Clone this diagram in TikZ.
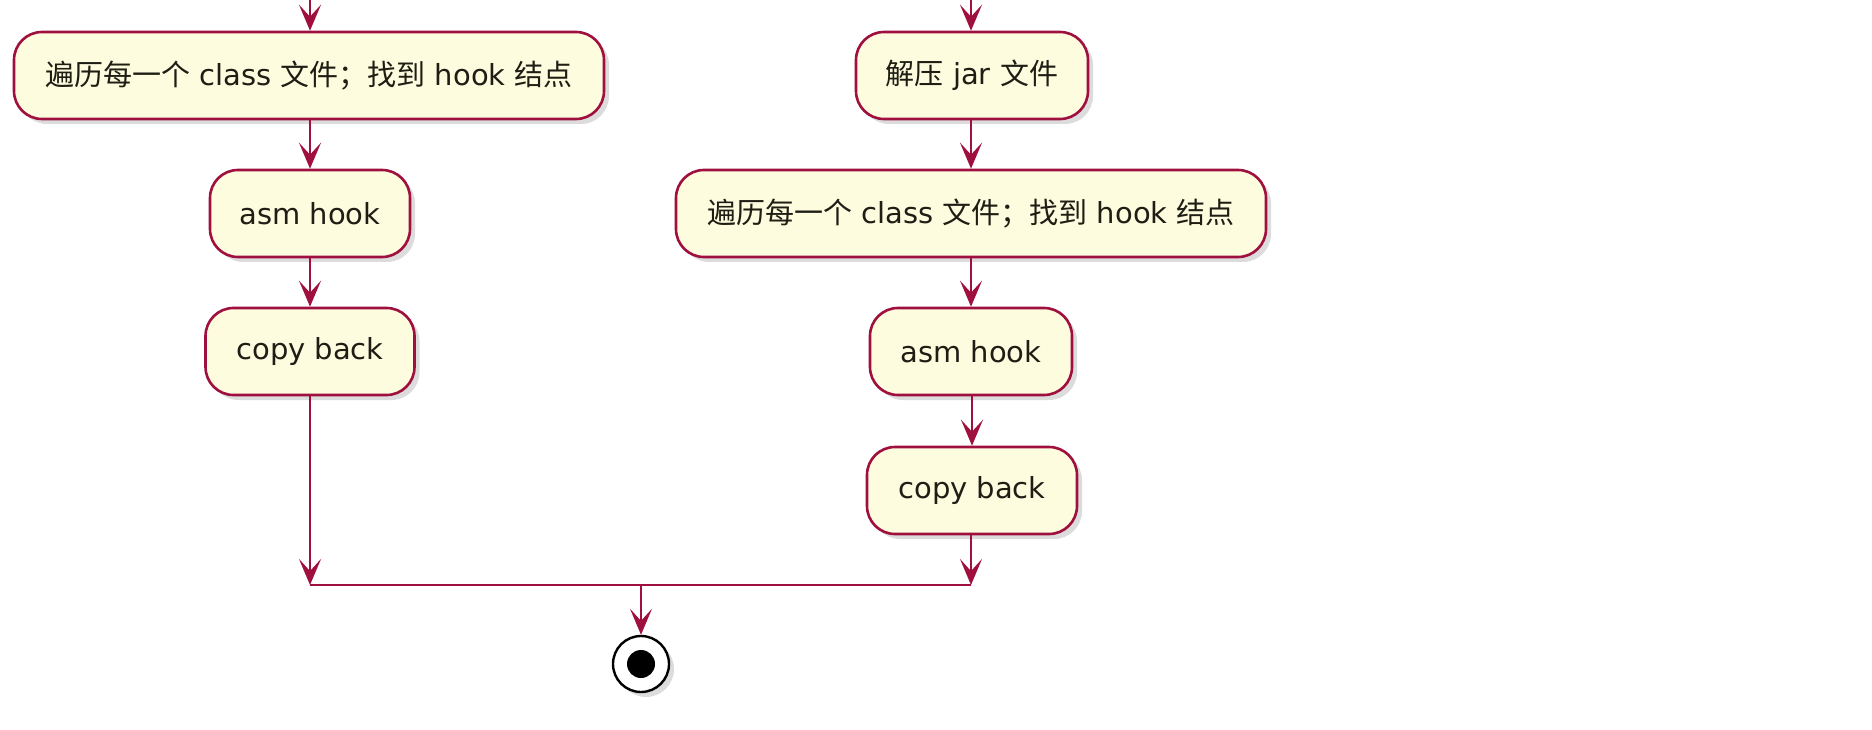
\documentclass[tikz,border=0pt]{standalone}
\usepackage{fontspec}
\setmainfont{DejaVu Sans}
\newfontfamily\cjk{Noto Sans CJK SC}
\usetikzlibrary{arrows.meta,shadows}
\definecolor{umlred}{HTML}{A0103E}
\definecolor{umlfill}{HTML}{FEFCDF}
\definecolor{umltext}{HTML}{1E1E14}
\tikzset{
  act/.style={draw=umlred, fill=umlfill, line width=2.6pt, rounded corners=28pt,
    minimum height=87pt, inner sep=0pt, text=umltext,
    font=\fontsize{29}{34}\selectfont,
    drop shadow={shadow xshift=5pt, shadow yshift=-5pt, fill=black!45, opacity=0.3}},
  flow/.style={draw=umlred, line width=2.6pt, -{Stealth[length=26pt,width=22pt,inset=12pt]}},
  bar/.style={draw=umlred, line width=2.6pt},
  endouter/.style={circle, draw=black, fill=white, line width=2.4pt, minimum size=56pt, inner sep=0pt,
    drop shadow={shadow xshift=5pt, shadow yshift=-5pt, fill=black!45, opacity=0.3}},
  endinner/.style={circle, fill=black, minimum size=28pt, inner sep=0pt}
}
\begin{document}
\begin{tikzpicture}[x=1pt,y=-1pt]
\useasboundingbox[fill=white] (0,0) rectangle (1872,730);
% left column
\node[act, minimum width=590pt] (L1) at (309,75.5) {{\cjk 遍历每一个} class {\cjk 文件；找到} hook {\cjk 结点}};
\node[act, minimum width=200pt] (L2) at (310,213.5) {asm hook};
\node[act, minimum width=209pt] (L3) at (310,351.5) {copy back};
% right column
\node[act, minimum width=232pt] (R1) at (972,75.5) {{\cjk 解压} jar {\cjk 文件}};
\node[act, minimum width=590pt] (R2) at (971,213.5) {{\cjk 遍历每一个} class {\cjk 文件；找到} hook {\cjk 结点}};
\node[act, minimum width=202pt] (R3) at (971,351.5) {asm hook};
\node[act, minimum width=210pt] (R4) at (972,490.5) {copy back};
% end
\node[endouter] (E) at (641,664) {};
\node[endinner] (Ei) at (E.center) {};
% free ends
\coordinate (TL) at (310,0);
\coordinate (TR) at (971,0);
\coordinate (BL) at (310,585);
\coordinate (BR) at (971,585);
\coordinate (BM) at (641,585);
% connectors
\draw[flow] (TL) -- (L1.north -| TL);
\draw[flow] (TR) -- (R1.north -| TR);
\draw[flow] (L1.south -| L2) -- (L2.north);
\draw[flow] (L2) -- (L3);
\draw[flow] (L3.south) -- (BL);
\draw[flow] (R1.south -| R2) -- (R2.north);
\draw[flow] (R2.south -| R3) -- (R3.north);
\draw[flow] (R3.south -| R4) -- (R4.north);
\draw[flow] (R4.south -| BR) -- (BR);
\draw[bar] (BL) -- (BR);
\draw[flow] (BM) -- (E.north);
\end{tikzpicture}
\end{document}
